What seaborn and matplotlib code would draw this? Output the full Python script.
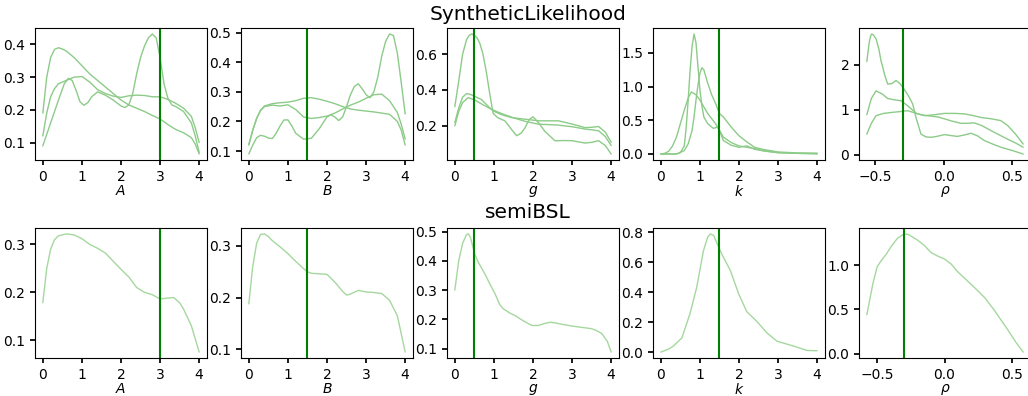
import matplotlib
matplotlib.use("Agg")
import matplotlib.pyplot as plt
from matplotlib.ticker import MaxNLocator
import seaborn as sns

# ---- parameter names, true values, axis labels ----
params = ["A", "B", "g", "k", "rho"]
xlabels = ["$A$", "$B$", "$g$", "$k$", r"$\rho$"]
true_values = [3.0, 1.5, 0.5, 1.5, -0.3]
row_titles = ["SyntheticLikelihood", "semiBSL"]

# ---- SyntheticLikelihood posterior densities (three runs per parameter) ----
sl_A_x1 = [0, 0.1, 0.2, 0.3, 0.4, 0.5, 0.6, 0.8, 1.0, 1.2, 1.4, 1.6, 1.8, 2.0, 2.2, 2.4, 2.6, 2.8, 3.0, 3.2, 3.4, 3.6, 3.8, 3.9, 4.0]
sl_A_y1 = [0.19, 0.3, 0.36, 0.385, 0.39, 0.386, 0.38, 0.36, 0.335, 0.31, 0.29, 0.27, 0.25, 0.23, 0.215, 0.205, 0.195, 0.183, 0.172, 0.155, 0.14, 0.13, 0.115, 0.095, 0.065]
sl_A_x2 = [0, 0.2, 0.4, 0.55, 0.65, 0.75, 0.85, 0.95, 1.05, 1.15, 1.25, 1.4, 1.6, 1.8, 2.0, 2.1, 2.2, 2.3, 2.4, 2.5, 2.6, 2.7, 2.8, 2.9, 3.0, 3.1, 3.2, 3.3, 3.4, 3.6, 3.8, 3.9, 4.0]
sl_A_y2 = [0.09, 0.16, 0.23, 0.28, 0.296, 0.29, 0.26, 0.225, 0.214, 0.222, 0.24, 0.255, 0.245, 0.23, 0.212, 0.207, 0.215, 0.25, 0.31, 0.36, 0.395, 0.42, 0.432, 0.42, 0.36, 0.28, 0.235, 0.215, 0.21, 0.195, 0.16, 0.12, 0.07]
sl_A_x3 = [0, 0.1, 0.2, 0.3, 0.4, 0.6, 0.8, 1.0, 1.2, 1.4, 1.6, 1.8, 2.0, 2.2, 2.4, 2.6, 2.8, 3.0, 3.2, 3.4, 3.6, 3.8, 3.9, 4.0]
sl_A_y3 = [0.12, 0.19, 0.24, 0.265, 0.28, 0.29, 0.3, 0.302, 0.285, 0.262, 0.25, 0.242, 0.238, 0.243, 0.245, 0.244, 0.24, 0.24, 0.232, 0.22, 0.205, 0.18, 0.145, 0.1]

sl_B_x1 = [0, 0.1, 0.2, 0.3, 0.4, 0.5, 0.6, 0.7, 0.8, 0.9, 1.0, 1.1, 1.2, 1.4, 1.6, 1.8, 2.0, 2.1, 2.2, 2.3, 2.4, 2.5, 2.6, 2.7, 2.8, 2.9, 3.0, 3.1, 3.2, 3.3, 3.4, 3.5, 3.6, 3.7, 3.8, 3.9, 4.0]
sl_B_y1 = [0.09, 0.12, 0.145, 0.153, 0.15, 0.144, 0.142, 0.16, 0.185, 0.205, 0.205, 0.185, 0.16, 0.14, 0.143, 0.175, 0.215, 0.222, 0.215, 0.203, 0.215, 0.25, 0.29, 0.318, 0.327, 0.31, 0.29, 0.28, 0.3, 0.35, 0.42, 0.47, 0.495, 0.49, 0.43, 0.33, 0.225]
sl_B_x2 = [0, 0.1, 0.2, 0.3, 0.4, 0.6, 0.8, 1.0, 1.2, 1.4, 1.6, 1.8, 2.0, 2.2, 2.4, 2.6, 2.8, 3.0, 3.2, 3.4, 3.6, 3.8, 3.9, 4.0]
sl_B_y2 = [0.123, 0.17, 0.21, 0.238, 0.252, 0.26, 0.263, 0.265, 0.27, 0.278, 0.28, 0.275, 0.268, 0.26, 0.25, 0.242, 0.238, 0.235, 0.232, 0.228, 0.224, 0.2, 0.17, 0.12]
sl_B_x3 = [0, 0.1, 0.2, 0.3, 0.4, 0.6, 0.8, 1.0, 1.2, 1.4, 1.6, 1.8, 2.0, 2.2, 2.4, 2.6, 2.8, 3.0, 3.2, 3.4, 3.6, 3.8, 3.9, 4.0]
sl_B_y3 = [0.12, 0.17, 0.21, 0.237, 0.25, 0.255, 0.252, 0.256, 0.24, 0.215, 0.21, 0.213, 0.218, 0.228, 0.242, 0.255, 0.265, 0.278, 0.29, 0.292, 0.27, 0.23, 0.19, 0.14]

sl_g_x1 = [0, 0.1, 0.2, 0.3, 0.37, 0.43, 0.5, 0.57, 0.64, 0.72, 0.81, 0.9, 0.98, 1.1, 1.28, 1.45, 1.58, 1.7, 1.8, 1.9, 2.0, 2.07, 2.14, 2.3, 2.56, 2.8, 3.0, 3.33, 3.5, 3.68, 3.85, 4.0]
sl_g_y1 = [0.307, 0.45, 0.6, 0.68, 0.705, 0.712, 0.705, 0.69, 0.66, 0.6, 0.495, 0.37, 0.27, 0.245, 0.228, 0.18, 0.145, 0.16, 0.19, 0.235, 0.25, 0.235, 0.218, 0.17, 0.117, 0.118, 0.117, 0.104, 0.108, 0.117, 0.09, 0.043]
sl_g_x2 = [0, 0.1, 0.2, 0.3, 0.4, 0.55, 0.68, 0.85, 0.98, 1.2, 1.45, 1.8, 2.14, 2.4, 2.65, 3.0, 3.33, 3.5, 3.68, 3.85, 4.0]
sl_g_y2 = [0.218, 0.3, 0.36, 0.38, 0.375, 0.36, 0.347, 0.31, 0.283, 0.262, 0.246, 0.237, 0.228, 0.228, 0.228, 0.21, 0.19, 0.192, 0.196, 0.165, 0.108]
sl_g_x3 = [0, 0.1, 0.2, 0.34, 0.5, 0.7, 0.94, 1.2, 1.54, 1.8, 2.14, 2.4, 2.65, 3.0, 3.33, 3.5, 3.68, 3.85, 4.0]
sl_g_y3 = [0.2, 0.28, 0.33, 0.357, 0.345, 0.32, 0.292, 0.268, 0.242, 0.225, 0.209, 0.207, 0.204, 0.195, 0.182, 0.178, 0.172, 0.14, 0.09]

sl_k_x1 = [0, 0.2, 0.4, 0.5, 0.6, 0.65, 0.7, 0.75, 0.8, 0.85, 0.9, 0.95, 1.0, 1.05, 1.1, 1.2, 1.3, 1.35, 1.45, 1.5, 1.6, 1.8, 2.0, 2.2, 2.4, 2.7, 3.0, 3.5, 4.0]
sl_k_y1 = [0.0, 0.0, 0.0, 0.02, 0.12, 0.4, 0.8, 1.25, 1.6, 1.78, 1.65, 1.3, 0.95, 0.72, 0.55, 0.45, 0.4, 0.38, 0.4, 0.35, 0.2, 0.13, 0.1, 0.12, 0.07, 0.04, 0.02, 0.01, 0.0]
sl_k_x2 = [0, 0.2, 0.4, 0.6, 0.7, 0.8, 0.85, 0.9, 0.95, 1.0, 1.05, 1.1, 1.2, 1.3, 1.4, 1.5, 1.6, 1.8, 2.0, 2.2, 2.4, 2.6, 3.0, 3.5, 4.0]
sl_k_y2 = [0.0, 0.0, 0.0, 0.05, 0.15, 0.35, 0.55, 0.8, 1.02, 1.2, 1.28, 1.25, 1.05, 0.88, 0.75, 0.6, 0.55, 0.4, 0.27, 0.18, 0.1, 0.07, 0.03, 0.015, 0.01]
sl_k_x3 = [0, 0.1, 0.2, 0.3, 0.4, 0.5, 0.6, 0.7, 0.78, 0.9, 1.0, 1.2, 1.4, 1.5, 1.6, 1.8, 2.0, 2.2, 2.4, 2.6, 3.0, 3.5, 4.0]
sl_k_y3 = [0.0, 0.01, 0.04, 0.12, 0.25, 0.45, 0.65, 0.83, 0.92, 0.88, 0.8, 0.6, 0.45, 0.35, 0.25, 0.17, 0.12, 0.1, 0.08, 0.05, 0.02, 0.01, 0.01]

sl_rho_x1 = [-0.563, -0.545, -0.535, -0.527, -0.515, -0.495, -0.475, -0.46, -0.43, -0.41, -0.38, -0.349, -0.32, -0.29, -0.26, -0.227, -0.2, -0.166, -0.13, -0.093, -0.05, 0.005, 0.05, 0.1, 0.15, 0.2, 0.25, 0.297, 0.36, 0.42, 0.5, 0.583]
sl_rho_y1 = [2.07, 2.5, 2.64, 2.68, 2.66, 2.57, 2.35, 2.1, 1.75, 1.57, 1.58, 1.65, 1.58, 1.46, 1.32, 1.13, 0.8, 0.46, 0.4, 0.39, 0.41, 0.45, 0.43, 0.41, 0.44, 0.48, 0.42, 0.32, 0.24, 0.17, 0.1, 0.02]
sl_rho_x2 = [-0.563, -0.53, -0.495, -0.45, -0.41, -0.36, -0.312, -0.26, -0.2, -0.15, -0.093, -0.04, 0.005, 0.06, 0.127, 0.18, 0.224, 0.28, 0.346, 0.41, 0.468, 0.53, 0.583]
sl_rho_y2 = [0.89, 1.25, 1.42, 1.35, 1.25, 1.22, 1.2, 1.08, 0.92, 0.88, 0.86, 0.84, 0.8, 0.75, 0.7, 0.7, 0.71, 0.65, 0.54, 0.44, 0.35, 0.26, 0.17]
sl_rho_x3 = [-0.563, -0.53, -0.495, -0.44, -0.385, -0.32, -0.263, -0.2, -0.14, -0.07, 0.005, 0.08, 0.15, 0.22, 0.273, 0.35, 0.419, 0.47, 0.53, 0.583]
sl_rho_y3 = [0.46, 0.7, 0.87, 0.92, 0.94, 0.96, 0.98, 0.92, 0.87, 0.89, 0.92, 0.92, 0.91, 0.87, 0.83, 0.8, 0.76, 0.65, 0.45, 0.24]

# ---- semiBSL posterior densities (one run per parameter) ----
semi_A_x = [0, 0.1, 0.2, 0.3, 0.4, 0.6, 0.8, 1.0, 1.2, 1.4, 1.6, 1.8, 2.0, 2.2, 2.4, 2.6, 2.8, 3.0, 3.2, 3.35, 3.5, 3.6, 3.8, 4.0]
semi_A_y = [0.178, 0.25, 0.29, 0.31, 0.318, 0.322, 0.32, 0.312, 0.3, 0.292, 0.282, 0.265, 0.248, 0.232, 0.21, 0.2, 0.195, 0.186, 0.188, 0.189, 0.178, 0.165, 0.13, 0.075]

semi_B_x = [0, 0.1, 0.2, 0.3, 0.4, 0.5, 0.6, 0.8, 1.0, 1.2, 1.4, 1.5, 1.6, 1.8, 2.0, 2.2, 2.4, 2.5, 2.6, 2.8, 3.0, 3.2, 3.4, 3.6, 3.8, 4.0]
semi_B_y = [0.188, 0.26, 0.305, 0.322, 0.323, 0.318, 0.31, 0.298, 0.285, 0.27, 0.256, 0.25, 0.247, 0.246, 0.245, 0.23, 0.212, 0.205, 0.207, 0.214, 0.211, 0.21, 0.208, 0.195, 0.165, 0.095]

semi_g_x = [0, 0.1, 0.2, 0.3, 0.35, 0.4, 0.51, 0.6, 0.77, 0.9, 1.03, 1.15, 1.24, 1.4, 1.54, 1.75, 1.97, 2.14, 2.3, 2.44, 2.6, 2.74, 3.0, 3.16, 3.5, 3.65, 3.76, 3.9, 4.0]
semi_g_y = [0.3, 0.4, 0.46, 0.49, 0.492, 0.48, 0.423, 0.395, 0.355, 0.32, 0.287, 0.25, 0.236, 0.222, 0.213, 0.195, 0.179, 0.179, 0.186, 0.19, 0.187, 0.183, 0.177, 0.174, 0.168, 0.16, 0.151, 0.125, 0.088]

semi_k_x = [0, 0.2, 0.32, 0.54, 0.75, 0.92, 1.09, 1.2, 1.27, 1.35, 1.45, 1.56, 1.78, 1.99, 2.2, 2.46, 2.72, 2.97, 3.4, 3.74, 4.0]
semi_k_y = [0.0, 0.02, 0.04, 0.095, 0.26, 0.435, 0.677, 0.77, 0.79, 0.78, 0.72, 0.655, 0.545, 0.39, 0.27, 0.204, 0.127, 0.073, 0.04, 0.011, 0.009]

semi_rho_x = [-0.577, -0.55, -0.532, -0.5, -0.47, -0.433, -0.4, -0.35, -0.3, -0.27, -0.2, -0.15, -0.1, -0.05, 0.0, 0.05, 0.1, 0.15, 0.22, 0.3, 0.37, 0.42, 0.47, 0.53, 0.584]
semi_rho_y = [0.44, 0.65, 0.79, 0.98, 1.05, 1.12, 1.2, 1.3, 1.35, 1.345, 1.28, 1.22, 1.14, 1.1, 1.067, 1.01, 0.92, 0.85, 0.75, 0.63, 0.49, 0.38, 0.27, 0.13, 0.02]

sl_curves = {
    "A": [(sl_A_x1, sl_A_y1), (sl_A_x2, sl_A_y2), (sl_A_x3, sl_A_y3)],
    "B": [(sl_B_x1, sl_B_y1), (sl_B_x2, sl_B_y2), (sl_B_x3, sl_B_y3)],
    "g": [(sl_g_x1, sl_g_y1), (sl_g_x2, sl_g_y2), (sl_g_x3, sl_g_y3)],
    "k": [(sl_k_x1, sl_k_y1), (sl_k_x2, sl_k_y2), (sl_k_x3, sl_k_y3)],
    "rho": [(sl_rho_x1, sl_rho_y1), (sl_rho_x2, sl_rho_y2), (sl_rho_x3, sl_rho_y3)],
}
semi_curves = {
    "A": [(semi_A_x, semi_A_y)],
    "B": [(semi_B_x, semi_B_y)],
    "g": [(semi_g_x, semi_g_y)],
    "k": [(semi_k_x, semi_k_y)],
    "rho": [(semi_rho_x, semi_rho_y)],
}

sns.set_theme(style="ticks")
plt.rcParams.update({
    "font.family": ["DejaVu Sans"],
    "xtick.labelsize": 10,
    "ytick.labelsize": 10,
    "axes.labelsize": 10,
    "xtick.major.size": 3.5,
    "ytick.major.size": 3.5,
    "xtick.major.pad": 3.5,
    "axes.edgecolor": "black",
    "axes.linewidth": 0.8,
    "text.color": "black",
    "axes.labelcolor": "black",
    "xtick.color": "black",
    "ytick.color": "black",
})

W, H = 1028, 396
fig = plt.figure(figsize=(W / 100, H / 100), dpi=100)

lefts = [35, 241, 447, 653, 859]
width = 172
rows = [(28, 160), (228, 358)]
curve_colors = ["#8ccb88", "#a5d89e"]
title_y = [14, 213]

for r, (top, bottom) in enumerate(rows):
    curves = sl_curves if r == 0 else semi_curves
    for c, p in enumerate(params):
        ax = fig.add_axes([lefts[c] / W, 1 - bottom / H, width / W, (bottom - top) / H])
        for xs, ys in curves[p]:
            sns.lineplot(x=xs, y=ys, ax=ax, color=curve_colors[r], lw=1.0,
                         estimator=None, sort=False, legend=False)
        ax.axvline(true_values[c], color="green", lw=1.5)
        ax.set_xlabel(xlabels[c], labelpad=0)
        ax.set_ylabel("")
        ax.yaxis.set_major_locator(MaxNLocator(nbins=5, steps=[1, 2, 2.5, 5, 10]))
        if p == "rho":
            ax.set_xticks([-0.5, 0.0, 0.5])
        else:
            ax.set_xticks([0, 1, 2, 3, 4])
    fig.text(528 / W, 1 - title_y[r] / H, row_titles[r],
             ha="center", va="center", fontsize=14.5)

fig.savefig("out.png", dpi=100)
